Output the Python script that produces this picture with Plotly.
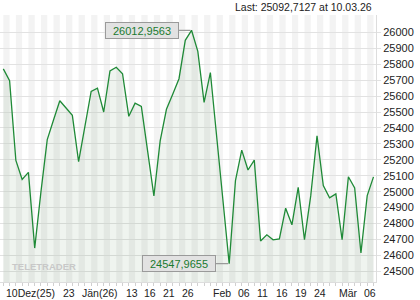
import pandas as pd
import plotly.graph_objects as go

# ---- data ----
holidays = ["2025-12-24", "2025-12-25", "2025-12-26", "2025-12-31", "2026-01-01"]
dates = [d.strftime("%Y-%m-%d") for d in pd.bdate_range("2025-12-10", "2026-03-10")
         if d.strftime("%Y-%m-%d") not in holidays]

values = [
    25771, 25696, 25196, 25077, 25121, 24646, 25000, 25327, 25450, 25571,
    25525, 25479, 25188, 25405, 25629, 25650, 25500, 25758, 25781, 25740,
    25473, 25556, 25535, 25254, 24973, 25319, 25517, 25611, 25709, 25950,
    26012.9563, 25881, 25561, 25748, 25348, 24929, 24547.9655, 25069, 25261, 25136,
    25198, 24690, 24729, 24698, 24704, 24896, 24792, 25027, 24698, 24975,
    25350, 25038, 24961, 24986, 24698, 25094, 25023, 24615, 24975, 25092.7127,
]

tick_dates = ["2025-12-10", "2025-12-23", "2026-01-02", "2026-01-13", "2026-01-16",
              "2026-01-21", "2026-01-26", "2026-02-02", "2026-02-06", "2026-02-11",
              "2026-02-16", "2026-02-19", "2026-02-24", "2026-03-02", "2026-03-06"]
tick_labels = ["10Dez(25)", "23", "Jän(26)", "13", "16", "21", "26", "Feb", "06", "11",
               "16", "19", "24", "Mär", "06"]

y_ticks = [24500, 24600, 24700, 24800, 24900, 25000, 25100, 25200, 25300,
           25400, 25500, 25600, 25700, 25800, 25900, 26000]

last_text = "Last: 25092,7127 at 10.03.26"
max_text = "26012,9563"
min_text = "24547,9655"

# ---- figure ----
FONT = "Liberation Sans, Arial, sans-serif"
GREEN = "#1f8a37"
x = list(range(len(dates)))

fig = go.Figure()
fig.add_trace(go.Scatter(
    x=x, y=values, mode="lines",
    line=dict(color=GREEN, width=1.3),
    fill="tozeroy", fillcolor="rgba(40,110,40,0.075)",
    hoverinfo="skip",
))

# alternating day stripes
shapes = []
for i in range(0, len(dates) - 1, 2):
    shapes.append(dict(type="rect", xref="x", yref="paper", x0=i, x1=i + 1, y0=0, y1=1,
                       fillcolor="#f3f3f3", line=dict(width=0), layer="below"))

annotations = []
for d, lab in zip(tick_dates, tick_labels):
    annotations.append(dict(x=dates.index(d), y=0, xref="x", yref="paper",
                            text=lab, showarrow=False, xanchor="left", yanchor="top",
                            yshift=-3, xshift=1,
                            font=dict(family=FONT, size=10.5, color="#222")))

annotations.append(dict(x=1, y=1, xref="paper", yref="paper", text=last_text,
                        showarrow=False, xanchor="right", yanchor="bottom",
                        xshift=-2, yshift=0,
                        font=dict(family=FONT, size=10.5, color="#222")))

imax = values.index(max(values))
imin = values.index(min(values))
for idx, txt in ((imax, max_text), (imin, min_text)):
    annotations.append(dict(x=idx, y=values[idx], xref="x", yref="y", text=txt,
                            showarrow=True, arrowhead=0, arrowwidth=1.2,
                            arrowcolor="#9a9a9a", ax=-50, ay=0, standoff=1,
                            bgcolor="#e2e2e2", bordercolor="#9a9a9a", borderwidth=1,
                            borderpad=1, width=70, height=13,
                            font=dict(family=FONT, size=11, color="#1a7a30")))

annotations.append(dict(x=0.027, y=0.03, xref="paper", yref="paper", text="<b>TELETRADER</b>",
                        showarrow=False, xanchor="left", yanchor="bottom",
                        font=dict(family="Liberation Sans Narrow, Arial Narrow, sans-serif",
                                  size=9.5, color="#c8c8c8")))

fig.update_layout(
    width=420, height=300,
    margin=dict(l=0, r=44, t=15, b=18),
    paper_bgcolor="white", plot_bgcolor="white",
    showlegend=False,
    shapes=shapes, annotations=annotations,
    xaxis=dict(range=[-0.53, 59.4], showgrid=False, zeroline=False,
               showticklabels=False, ticks="outside", ticklen=3, tickcolor="#d0d0d0",
               tickmode="linear", tick0=0, dtick=1,
               showline=True, linecolor="#dddddd", linewidth=1, fixedrange=True),
    yaxis=dict(range=[24433, 26109], side="right", tickvals=y_ticks,
               ticktext=[str(v) for v in y_ticks],
               showgrid=True, gridcolor="#e2e2e2", gridwidth=1, zeroline=False,
               ticks="outside", ticklen=4, tickcolor="#e2e2e2",
               showline=True, linecolor="#dddddd", linewidth=1,
               tickfont=dict(family=FONT, size=11, color="#222"), fixedrange=True),
)

fig.write_html("out.html")
